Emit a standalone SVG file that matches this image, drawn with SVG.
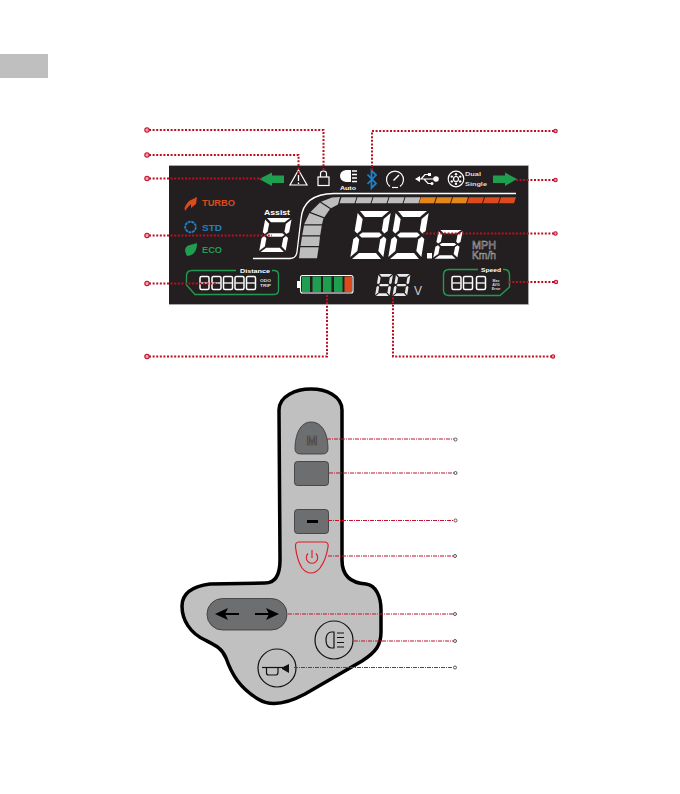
<svg xmlns="http://www.w3.org/2000/svg" xmlns:xlink="http://www.w3.org/1999/xlink" width="680" height="794" viewBox="0 0 680 794">
<style>
.sans{font-family:"Liberation Sans",Arial,sans-serif}
.w{fill:#fff}
.seg{fill:#fff}
.lead{fill:none;stroke:#bd0f22;stroke-width:2;stroke-dasharray:2 1.6}
.thin{fill:none;stroke:#c4122f;stroke-width:1.1;stroke-dasharray:4 1 1 1}
.dot{fill:#f0a0a8;stroke:#c4122f;stroke-width:1.1}
.sdot{fill:#fff;stroke:#555;stroke-width:1}
.btn{fill:#6d6e70;stroke:#333;stroke-width:.8}
.ic{fill:none;stroke:#fff;stroke-width:1.2}
.bar{fill:#bdbdbd}
.o{fill:#e5861d}
.r{fill:#dd4a1c}
.g{fill:#1f9e4f}
.box{fill:none;stroke:#1f9a4e;stroke-width:1.4}
.k{fill:none;stroke:#111;stroke-width:1.2}
</style>
<defs>
<g id="dg" transform="matrix(1 0 -.167 1 8 0)">
<polygon class="seg" points="2,0 31,0 25,6 8,6"/>
<polygon class="seg" points="2,48 31,48 25,42 8,42"/>
<polygon class="seg" points="5,24 8,21.500 25,21.500 28,24 25,26.500 8,26.500"/>
<polygon class="seg" points="0,2 6,8 6,19.500 3,22.500 0,20"/>
<polygon class="seg" points="0,46 6,40 6,28.500 3,25.500 0,28"/>
<polygon class="seg" points="33,2 27,8 27,19.500 30,22.500 33,20"/>
<polygon class="seg" points="33,46 27,40 27,28.500 30,25.500 33,28"/>
</g>
<g id="dt">
<rect x=".5" y=".5" width="9" height="13" rx="1.500" fill="none" stroke="#fff" stroke-width="1.500"/>
<path d="M1 7H9" stroke="#fff" stroke-width="1.300"/>
</g>
<polygon id="ts" points="2,0 17,0 15,6 0,6"/>
</defs>

<rect id="page-tab" x="0" y="54" width="48" height="24" fill="#bfbfbf"/>

<g id="lcd-panel">
<rect x="169" y="165" width="359" height="139" fill="#231f20"/>
<path d="M169 165.500H528.500V304.500H169" fill="none" stroke="#a8a8a8" stroke-width="1"/>
</g>

<g id="arrow-left"><polygon class="g" points="259,179 272,172.500 272,175.500 284,175.500 284,183 272,183 272,186"/></g>
<g id="arrow-right"><polygon class="g" points="517,179 505,172.500 505,175.500 493,175.500 493,183 505,183 505,186"/></g>
<g id="warning"><polygon class="ic" points="298.500,170 307,185 290,185"/><path d="M298.500 175V181M298.500 182.500V184" stroke="#fff" stroke-width="1.300"/></g>
<g id="lock"><rect class="ic" x="318" y="177" width="11" height="8.500"/><path class="ic" d="M320.500 177V173.500Q320.500 171 323.500 171Q326.500 171 326.500 173.500V177"/></g>
<g id="headlight"><path class="w" d="M351 170V182H346Q340 181 340 176Q340 171 346 170Z"/><path d="M352 171H357M352 174.500H357M352 178H357M352 181.500H357" stroke="#fff" stroke-width="1.500"/><text class="sans w" x="340" y="190" font-size="6" font-weight="700" textLength="16" lengthAdjust="spacingAndGlyphs">Auto</text></g>
<g id="bluetooth"><path d="M367.500 174.500L376 183.500L371.500 188V170.500L376 175L367.500 184" fill="none" stroke="#1f80c4" stroke-width="1.800"/></g>
<g id="speedometer"><path class="ic" d="M390 186.500A8.500 8.500 0 1 1 400 186.500"/><path class="ic" d="M392 187.500H398"/><path d="M393.500 180.500L399 175" stroke="#fff" stroke-width="1.500"/></g>
<g id="usb"><path class="ic" d="M418 179H435M421 179L425 174.500H429M424 179L428 183.500H431"/><polygon class="w" points="415,179 420,176 420,182"/><rect class="w" x="428" y="173" width="3" height="3"/><circle class="w" cx="432" cy="183.500" r="1.500"/><circle class="w" cx="436" cy="179" r="2.800"/></g>
<g id="wheel"><circle class="ic" cx="456" cy="179" r="7.800"/><circle class="ic" cx="456" cy="179" r="2.500" stroke-width="1"/><circle cx="456" cy="174.300" r="1.200" class="w"/><circle cx="456" cy="183.700" r="1.200" class="w"/><circle cx="451.800" cy="176.600" r="1.200" class="w"/><circle cx="460.200" cy="176.600" r="1.200" class="w"/><circle cx="451.800" cy="181.400" r="1.200" class="w"/><circle cx="460.200" cy="181.400" r="1.200" class="w"/></g>
<g id="dual-single" class="sans" fill="#ddd" font-size="6" font-weight="700"><text x="465" y="176" textLength="16" lengthAdjust="spacingAndGlyphs">Dual</text><text x="465" y="186" textLength="22" lengthAdjust="spacingAndGlyphs">Single</text></g>

<g id="mode-turbo"><path d="M197 197L196 204L191 208L191 204L188 207L185 211L184.500 208L186.500 204L189 201Z" fill="#dd4a1c"/><text class="sans" x="202" y="206" font-size="9" font-weight="700" fill="#dd4a1c" textLength="33" lengthAdjust="spacingAndGlyphs">TURBO</text></g>
<g id="mode-std"><circle cx="190.500" cy="227" r="5.300" fill="none" stroke="#1f80c4" stroke-width="1.800" stroke-dasharray="3 .6"/><text class="sans" x="202" y="231" font-size="9" font-weight="700" fill="#1f80c4" textLength="20" lengthAdjust="spacingAndGlyphs">STD</text></g>
<g id="mode-eco"><path d="M187 256Q182 247 190 245Q194 244 197 243Q197 251 193 254Q190 256 187 256Z" fill="#1f9e4f"/><text class="sans" x="202" y="253" font-size="9" font-weight="700" fill="#1f9e4f" textLength="20" lengthAdjust="spacingAndGlyphs">ECO</text></g>

<g id="assist"><text class="sans w" x="264" y="214.500" font-size="8" font-weight="700" textLength="26" lengthAdjust="spacingAndGlyphs">Assist</text><use xlink:href="#dg" href="#dg" transform="translate(259 218) scale(.8 .71)"/></g>

<g id="gauge">
<path d="M253 258.500H290Q296 258.500 297 252L301 219Q303 194 334 193.500H516" fill="none" stroke="#fff" stroke-width="1.300"/>
<polygon class="bar" points="299,258.300 317,258.300 318.700,247.300 300.300,247.300"/>
<polygon class="bar" points="300.500,246 319,246 320,236.500 302,236.500"/>
<polygon class="bar" points="302.200,235.300 320.200,235.300 321.800,225.500 304,225.500"/>
<polygon class="bar" points="304.200,224.300 322,224.300 323.500,218.300 309.500,213"/>
<polygon class="bar" points="310.500,212 324.300,217.300 330,209 320,202.500"/>
<polygon class="bar" points="321,201.700 331,208.300 338,204.500 340,197 332,197.500"/>
<use class="bar" href="#ts" xlink:href="#ts" transform="translate(339.500 197.300)"/>
<use class="bar" href="#ts" xlink:href="#ts" transform="translate(355.500 197.300)"/>
<use class="bar" href="#ts" xlink:href="#ts" transform="translate(371.500 197.300)"/>
<use class="bar" href="#ts" xlink:href="#ts" transform="translate(387.500 197.300)"/>
<use class="bar" href="#ts" xlink:href="#ts" transform="translate(403.500 197.300)"/>
<use class="o" href="#ts" xlink:href="#ts" transform="translate(419 197.300)"/>
<use class="o" href="#ts" xlink:href="#ts" transform="translate(435 197.300)"/>
<use class="o" href="#ts" xlink:href="#ts" transform="translate(451 197.300)"/>
<use class="r" href="#ts" xlink:href="#ts" transform="translate(467 197.300)"/>
<use class="r" href="#ts" xlink:href="#ts" transform="translate(483 197.300)"/>
<use class="r" href="#ts" xlink:href="#ts" transform="translate(499 197.300)"/>
</g>

<g id="speed-readout">
<use href="#dg" xlink:href="#dg" transform="translate(350 211)"/>
<use href="#dg" xlink:href="#dg" transform="translate(388 211)"/>
<rect x="427" y="253" width="5" height="5.500" class="w"/>
<use href="#dg" xlink:href="#dg" transform="translate(433 230) scale(.73 .6)"/>
<text class="sans" x="472" y="249" font-size="10" fill="#231f20" stroke="#b8b8b8" stroke-width=".45" textLength="24" lengthAdjust="spacingAndGlyphs">MPH</text>
<text class="sans" x="472" y="258.500" font-size="10" fill="#231f20" stroke="#b8b8b8" stroke-width=".45" textLength="24" lengthAdjust="spacingAndGlyphs">Km/h</text>
</g>

<g id="distance">
<path class="box" d="M236 270.500H192Q186.500 270.500 186.500 276V285L195 294.500H274Q278.500 294.500 278.500 290V275Q278.500 270.500 274 270.500H272"/>
<text class="sans w" x="240" y="272.500" font-size="6" font-weight="700" textLength="30" lengthAdjust="spacingAndGlyphs">Distance</text>
<use href="#dt" xlink:href="#dt" x="199.500" y="276"/>
<use href="#dt" xlink:href="#dt" x="211.500" y="276"/>
<use href="#dt" xlink:href="#dt" x="223" y="276"/>
<use href="#dt" xlink:href="#dt" x="234.500" y="276"/>
<use href="#dt" xlink:href="#dt" x="246" y="276"/>
<g class="sans" fill="#ddd" font-size="4" font-weight="700"><text x="260" y="282" textLength="11" lengthAdjust="spacingAndGlyphs">ODO</text><text x="260" y="287" textLength="11" lengthAdjust="spacingAndGlyphs">TRIP</text></g>
</g>

<g id="battery">
<rect x="297" y="281" width="3.500" height="7" class="w"/>
<rect x="300.500" y="275.500" width="52.500" height="17.500" rx="2" fill="#231f20" stroke="#fff" stroke-width="1.100"/>
<rect class="g" x="302" y="276.500" width="8" height="15.500"/>
<rect class="g" x="312.500" y="276.500" width="8.500" height="15.500"/>
<rect class="g" x="323" y="276.500" width="8.500" height="15.500"/>
<rect class="g" x="334" y="276.500" width="8.500" height="15.500"/>
<rect class="r" x="344.500" y="276.500" width="7.500" height="15.500"/>
</g>

<g id="voltage">
<use href="#dg" xlink:href="#dg" transform="translate(375 274) scale(.44 .46)" opacity=".9"/>
<use href="#dg" xlink:href="#dg" transform="translate(392.500 274) scale(.44 .46)" opacity=".9"/>
<text class="sans" x="414" y="295" font-size="12" fill="#ccc">V</text>
</g>

<g id="speed-box">
<path class="box" d="M478 269.500H449Q443.500 269.500 443.500 275V290Q443.500 295.500 449 295.500H500L509.500 287V275Q509.500 269.500 504 269.500H503"/>
<text class="sans w" x="481" y="272" font-size="6" font-weight="700" textLength="20" lengthAdjust="spacingAndGlyphs">Speed</text>
<use href="#dt" xlink:href="#dt" x="451.500" y="276"/>
<use href="#dt" xlink:href="#dt" x="463" y="276"/>
<use href="#dt" xlink:href="#dt" x="476" y="276"/>
<g class="sans" fill="#ddd" font-size="3.500" font-weight="700" text-anchor="middle"><text x="496" y="281.500">Max</text><text x="496" y="285.800">AVG</text><text x="496" y="290">Error</text></g>
</g>

<g id="handlebar-control">
<path d="M279 410C279 396 296 389 311 389C326 389 342 396 342 410L342 560C342 575 350 583 366 584C376 585 381 597 381 610L381 632C381 645 376 652 362 661L305 694C290 702 272 708 258 699C240 688 232 675 226 658C222 648 215 645 205 640C190 633 182 620 182 606C182 592 195 586 210 584L265 583C275 583 280 575 280 560Z" fill="#c0c0c0" stroke="#000" stroke-width="3.500"/>
</g>
<g id="btn-mode">
<path class="btn" d="M295 449C295 435 300 422 311 422C323 422 328 435 328 449Q328 454 322 454L301 454Q295 454 295 449Z"/>
<text class="sans" x="312" y="445" font-size="13" font-weight="700" fill="#6d6e70" stroke="#3a3a3a" stroke-width=".6" text-anchor="middle">M</text>
</g>
<g id="btn-plus"><rect class="btn" x="294.500" y="461.500" width="34" height="24" rx="3"/></g>
<g id="btn-minus"><rect class="btn" x="294.500" y="509.500" width="34" height="24" rx="3"/><rect x="307" y="520" width="11" height="3" fill="#000"/></g>
<g id="btn-power"><path d="M299 542H324Q329 542 328 547Q326 560 320 568Q316 573 311 573Q306 573 302 568Q297 560 295.500 547Q295 542 299 542Z" fill="#c0c0c0" stroke="#e01b24" stroke-width="1.200"/><path d="M308 553.500A5.700 5.700 0 1 0 316 553.500M312 550V558" fill="none" stroke="#e01b24" stroke-width="1.100"/></g>
<g id="btn-arrows"><rect class="btn" x="207" y="598.500" width="80" height="31.500" rx="15.500"/><path d="M225 614H239M255 614H270" stroke="#000" stroke-width="1.800"/><polygon points="215,614 228,608 225,614 228,620" fill="#000"/><polygon points="279,614 266,608 269,614 266,620" fill="#000"/></g>
<g id="btn-light"><circle class="k" cx="334" cy="640" r="19"/><path class="k" d="M334 632V648H331Q326 647 326 640Q326 633 331 632Z"/><path d="M337 633H344M337 637.500H344M337 642.500H344M337 647H344" stroke="#111" stroke-width="1.200"/></g>
<g id="btn-horn"><circle class="k" cx="277" cy="668" r="19"/><path class="k" d="M262 667.500H283"/><polygon points="282,667.500 289,664 289,673 282,669" fill="#111"/><path class="k" d="M266.500 668V673Q266.500 675 269 675H276Q278 675 278 672V668"/></g>

<g id="connectors">
<path class="lead" d="M149 130H323.500V170"/>
<path class="lead" d="M149 155H298.500V175"/>
<path class="lead" d="M149 178.500H262"/>
<path class="lead" d="M149 235.500H272"/>
<path class="lead" d="M149 283.500H218"/>
<path class="lead" d="M149 356.500H327V294"/>
<path class="lead" d="M554 131H372V172"/>
<path class="lead" d="M554 180H516"/>
<path class="lead" d="M554 233.500H423"/>
<path class="lead" d="M554 282H507"/>
<path class="lead" d="M552 356.500H393V295"/>
<circle class="dot" cx="147" cy="130" r="2.200"/>
<circle class="dot" cx="147" cy="155" r="2.200"/>
<circle class="dot" cx="147" cy="178.500" r="2.200"/>
<circle class="dot" cx="147" cy="235.500" r="2.200"/>
<circle class="dot" cx="147" cy="283.500" r="2.200"/>
<circle class="dot" cx="147" cy="356.500" r="2.200"/>
<circle class="dot" cx="555.500" cy="131" r="1.700"/>
<circle class="dot" cx="555.500" cy="180" r="1.700"/>
<circle class="dot" cx="555.500" cy="233.500" r="1.700"/>
<circle class="dot" cx="556" cy="282" r="1.700"/>
<circle class="dot" cx="553" cy="356.500" r="1.700"/>
<path class="thin" d="M327 439H454"/>
<path class="thin" d="M329 473H454"/>
<path class="thin" d="M328 520.500H454"/>
<path class="thin" d="M328 556H453"/>
<path class="thin" d="M288 614H453"/>
<path class="thin" d="M354 641H453"/>
<path class="thin" d="M294 667.500H453"/>
<circle class="sdot" cx="455.500" cy="439.500" r="1.500"/>
<circle class="sdot" cx="455.500" cy="473" r="1.500"/>
<circle class="sdot" cx="455.500" cy="520.500" r="1.500"/>
<circle class="sdot" cx="455" cy="556" r="1.500"/>
<circle class="sdot" cx="455" cy="614" r="1.500"/>
<circle class="sdot" cx="455" cy="641" r="1.500"/>
<circle class="sdot" cx="455" cy="667.500" r="1.500"/>
</g>
</svg>
